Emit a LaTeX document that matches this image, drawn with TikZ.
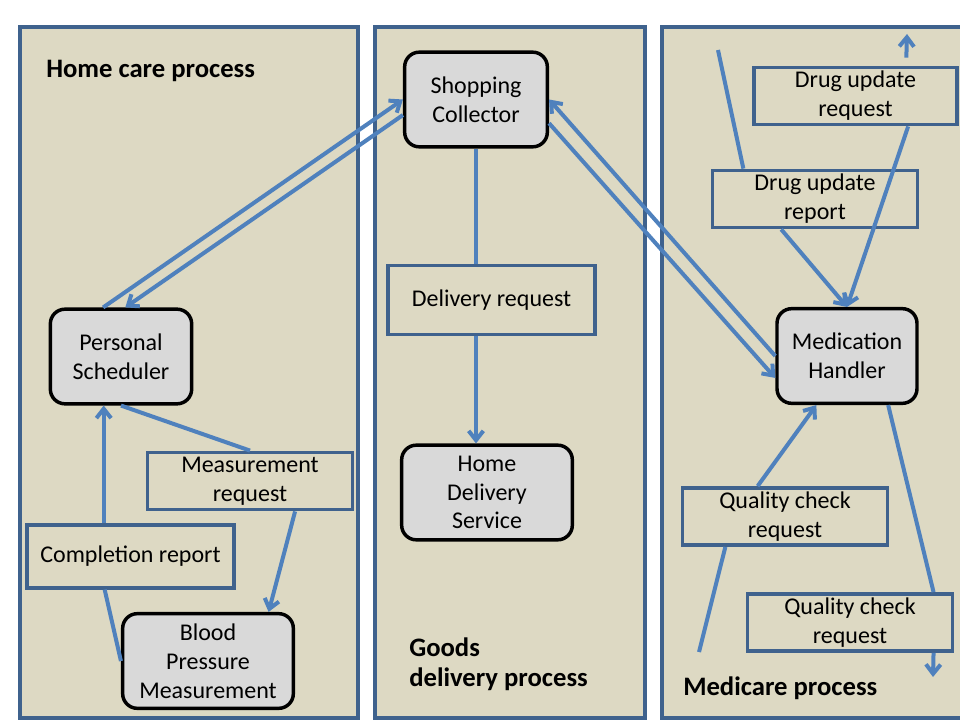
\documentclass[tikz,border=0pt]{standalone}
\usepackage{fontspec}
\setmainfont{Carlito}
\usetikzlibrary{arrows.meta, positioning, calc}
\definecolor{lanefill}{HTML}{DDD9C3}
\definecolor{laneline}{HTML}{3F628D}
\definecolor{flow}{HTML}{4F81BD}
\definecolor{procfill}{HTML}{D9D9D9}

\begin{document}
\begin{tikzpicture}[
  x=0.75pt, y=-0.75pt,
  font=\fontsize{18}{21.6}\selectfont,
  lane/.style={draw=laneline, fill=lanefill, line width=2.75pt},
  box/.style={align=center, inner sep=0pt, line width=2.6pt},
  proc/.style={box, draw=black, fill=procfill, rounded corners=11pt, minimum height=71pt},
  msg/.style={box, draw=laneline, fill=lanefill, minimum width=154pt, minimum height=43pt},
  title/.style={anchor=base west, inner sep=0pt, align=left,
                font=\fontsize{20}{22.5}\selectfont\bfseries},
  arr/.style={-{Straight Barb[length=7pt, width=11pt]}, line width=3pt, draw=flow},
  conn/.style={line width=3pt, draw=flow},
]
  \useasboundingbox (0,0) rectangle (960,720);
  \clip (0,0) rectangle (960,720);

  % Swim lanes
  \draw[lane] (20,27) rectangle (358,718);
  \draw[lane] (375,27) rectangle (645,718);
  \draw[lane] (662,27) rectangle (980,718);

  \node[title] (homet) at (46,78) {Home care process};
  \node[title] (goodst) at (409,686) {Goods\\delivery process};
  \node[title] (medt) at (683,695) {Medicare process};

  % Processes
  \node[proc, minimum width=107pt] (shop) at (476,99.5) {Shopping\\Collector};
  \node[proc, minimum width=106pt] (sched) at (121,356.5) {Personal\\Scheduler};
  \node[proc, minimum width=128pt] (bpm) at (208,661) {Blood\\Pressure\\Measurement};
  \node[proc, minimum width=128pt] (hds) at (487,492.5) {Home\\Delivery\\Service};
  \node[proc, minimum width=105pt] (med) at (847,356) {Medication\\Handler};

  % Messages
  \node[msg] (mreq) at (250,481) {Measurement\\request};
  \node[msg, minimum width=155pt, minimum height=47pt] (creq) at (130.5,556.5) {Completion report};
  \node[msg, minimum width=155pt, minimum height=52pt] (dreq) at (491.5,300) {Delivery request};
  \node[msg, minimum width=152pt] (duq) at (855.5,96) {Drug update\\request};
  \node[msg] (dur) at (815,199) {Drug update\\report};
  \node[msg] (qc1) at (785,516.5) {Quality check\\request};
  \node[msg] (qc2) at (850,622.5) {Quality check\\request};

  % Home care <-> Shopping
  \draw[arr] (sched.110) -- (shop.west);
  \draw[arr] (shop.192) -- (sched.85);

  % Shopping <-> Medication
  \draw[arr] (med.west) -- (shop.east);
  \draw[arr] (shop.-18) -- (med.197);

  % Goods delivery
  \draw[conn] (shop.south) -- (shop.south |- dreq.north);
  \draw[arr] (dreq.south -| shop.south) -- (hds.north -| shop.south);

  % Home care
  \draw[conn] (sched.south) -- (mreq.north);
  \draw[arr] (mreq.-34) -- (bpm.39);
  \draw[conn] (bpm.west) -- (creq.232);
  \draw[arr] (creq.129) -- (creq.129 |- sched.south);

  % Medicare
  \coordinate (drugin) at (718,50);
  \coordinate (drugout) at (907,34);
  \coordinate (qualin) at (699,652);
  \coordinate (qualout) at (933,677);
  \draw[conn] (drugin) -- (dur.157);
  \draw[arr, shorten <=6pt] (duq.31) -- (drugout);
  \draw[arr] (dur.222) -- (med.north);
  \draw[arr] (duq.-30) -- (med.north);
  \draw[arr] (qc1.132) -- (med.238);
  \draw[conn] (qualin) -- (qc1.207);
  \draw[conn] (med.-50) -- (qc2.20);
  \draw[arr] (qc2.-20) -- (qualout);

\end{tikzpicture}
\end{document}
